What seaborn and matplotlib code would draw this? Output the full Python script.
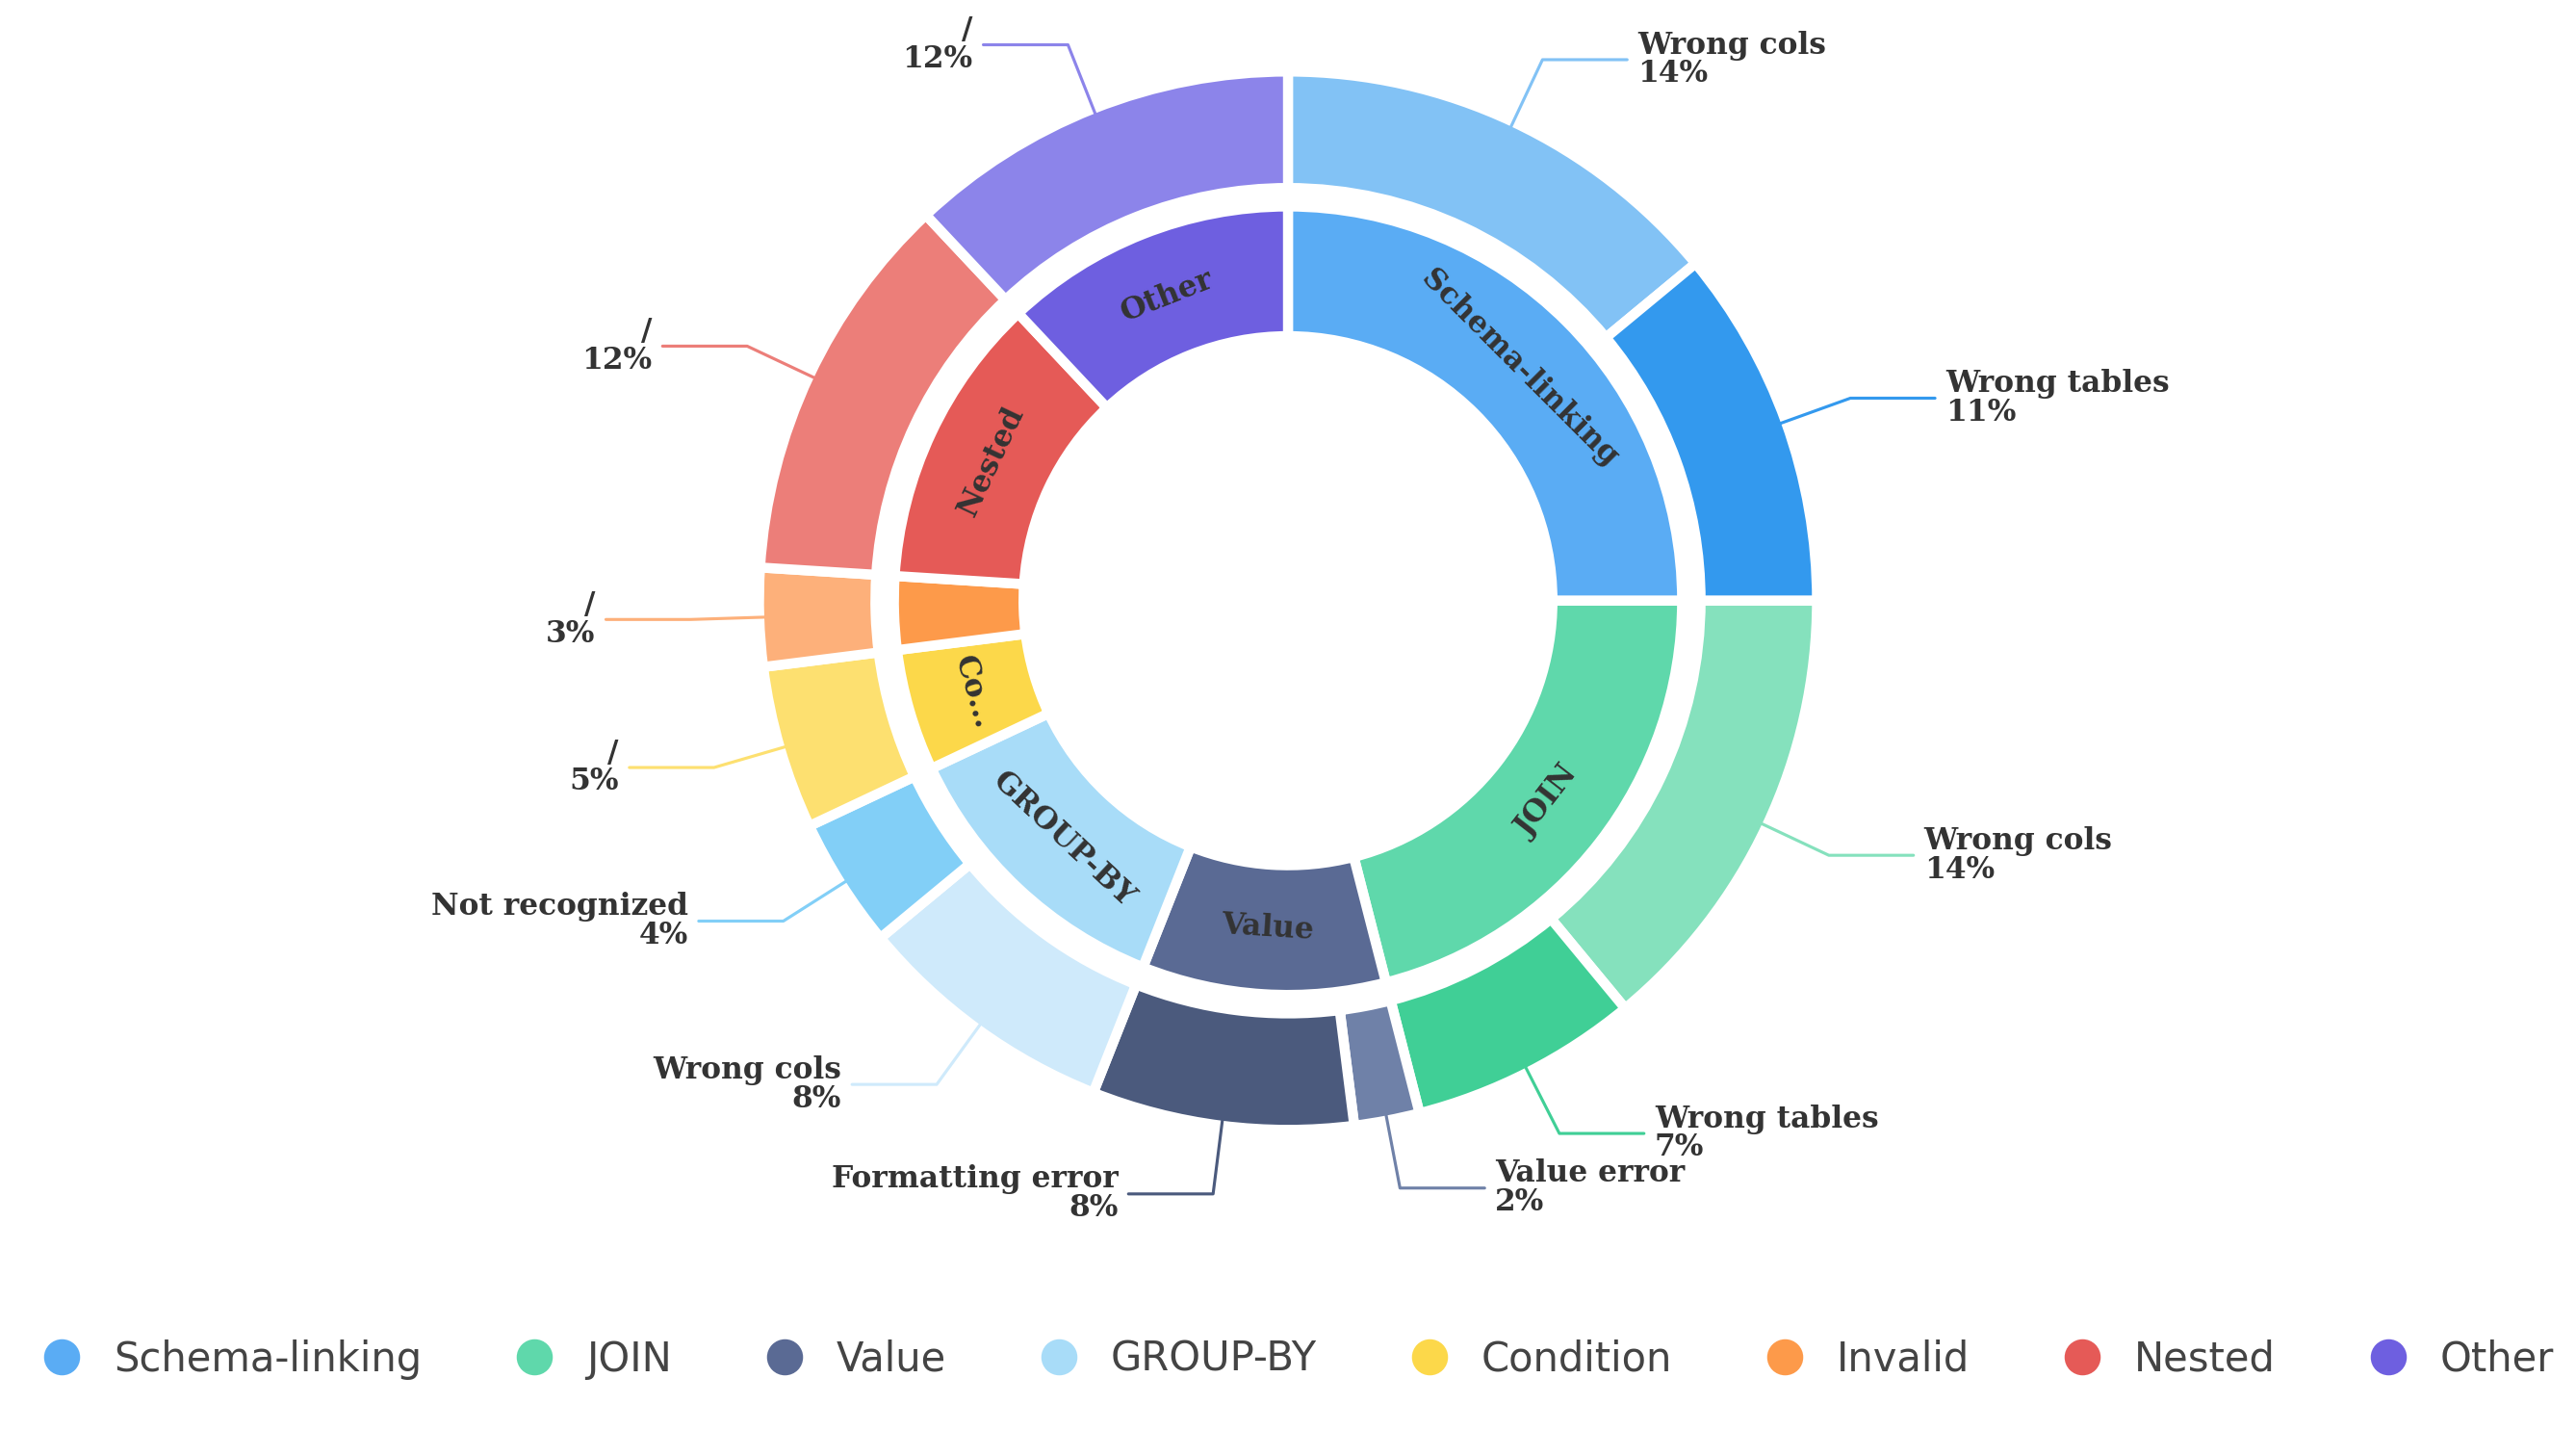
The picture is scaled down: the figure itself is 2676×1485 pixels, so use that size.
import numpy as np
import matplotlib
matplotlib.use("Agg")
import matplotlib.pyplot as plt
import seaborn as sns

categories = ["Schema-linking", "JOIN", "Value", "GROUP-BY", "Condition", "Invalid", "Nested", "Other"]
inner_labels = ["Schema-linking", "JOIN", "Value", "GROUP-BY", "Co...", "", "Nested", "Other"]
inner_values = [25, 21, 10, 12, 5, 3, 12, 12]
inner_colors = ["#5aacf4", "#5fd8ab", "#5a6a94", "#a8dcf8", "#fcd84a", "#fd9a4a", "#e55a57", "#6e5fe0"]

outer_labels = ["Wrong cols", "Wrong tables", "Wrong cols", "Wrong tables", "Value error",
                "Formatting error", "Wrong cols", "Not recognized", "/", "/", "/", "/"]
outer_values = [14, 11, 14, 7, 2, 8, 8, 4, 5, 3, 12, 12]
outer_colors = ["#82c2f5", "#3399ee", "#85e1bd", "#40cf96", "#6f81a8", "#4b5a7d",
                "#cfeafb", "#82cff7", "#fde070", "#fdb07a", "#ec7e79", "#8c84ea"]

sns.set_theme(style="white")
fig = plt.figure(figsize=(17.84, 9.9), dpi=150)
ax = fig.add_axes([0, 0, 1, 1])

wp_o = dict(width=0.22, edgecolor="white", linewidth=5)
wp_i = dict(width=0.245, edgecolor="white", linewidth=5)
ax.pie(outer_values, radius=1.0, colors=outer_colors, startangle=90, counterclock=False,
       wedgeprops=wp_o)
ax.pie(inner_values, radius=0.745, colors=inner_colors, startangle=90, counterclock=False,
       wedgeprops=wp_i)

# inner labels
tot = sum(inner_values)
cum = 0
for lab, v in zip(inner_labels, inner_values):
    mid = 90 - (cum + v / 2) / tot * 360
    cum += v
    if not lab:
        continue
    a = np.deg2rad(mid)
    r = 0.62
    rot = mid - 90
    rn = (rot + 180) % 360 - 180
    if rn < -90 or rn > 90:
        rot += 180
    ax.text(r * np.cos(a), r * np.sin(a), lab, rotation=rot, rotation_mode="anchor",
            ha="center", va="center", fontsize=15, fontweight="bold",
            family="DejaVu Serif", color="#333333")

# outer labels with leader lines
tot = sum(outer_values)
cum = 0
for lab, v, c in zip(outer_labels, outer_values, outer_colors):
    mid = 90 - (cum + v / 2) / tot * 360
    cum += v
    a = np.deg2rad(mid)
    x0, y0 = 0.95 * np.cos(a), 0.95 * np.sin(a)
    x1, y1 = 1.13 * np.cos(a), 1.13 * np.sin(a)
    side = 1 if np.cos(a) >= 0 else -1
    x2 = x1 + side * 0.16
    ax.plot([x0, x1, x2], [y0, y1, y1], color=c, lw=1.5)
    ax.text(x2 + side * 0.02, y1, f"{lab}\n{v}%", ha="left" if side > 0 else "right",
            va="center", fontsize=15, fontweight="bold", family="DejaVu Serif",
            color="#333333", linespacing=0.95,
            multialignment="left" if side > 0 else "right")

ax.set_xlim(-2.435, 2.435)
ax.set_ylim(-1.567, 1.135)
ax.set_aspect("equal")
ax.axis("off")

handles = [plt.Line2D([], [], marker="o", ls="", markersize=17, color=c) for c in inner_colors]
fig.legend(handles, categories, loc="lower center", bbox_to_anchor=(0.5, 0.01), ncol=8,
           frameon=False, fontsize=20, handletextpad=0.3, columnspacing=1.8,
           labelcolor="#444444")
fig.savefig("out.png", dpi=150)
